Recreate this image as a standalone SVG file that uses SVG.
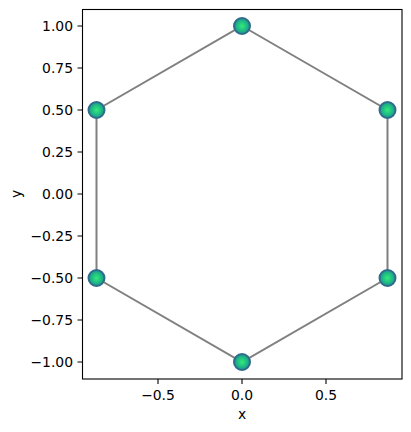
<svg xmlns="http://www.w3.org/2000/svg" width="411" height="432" viewBox="0 0 411 432">
<style>
text{font-family:"DejaVu Sans",sans-serif;font-size:13.9px;fill:#000}
.yt{text-anchor:end}
.xt{text-anchor:middle}
.tick{stroke:#000;stroke-width:1.1}
.edge{stroke:#808080;stroke-width:2;fill:none}
.node{fill:url(#g);stroke:#2e6b8c;stroke-width:2}
</style>
<defs>
<radialGradient id="g" cx="50%" cy="50%" r="50%">
<stop offset="0" stop-color="#35ea7a"/>
<stop offset="0.55" stop-color="#1fc083"/>
<stop offset="1" stop-color="#20948c"/>
</radialGradient>
</defs>
<rect width="411" height="432" fill="#fff"/>
<g id="connectors">
<polygon class="edge" points="242,26 387.5,110 387.5,278 242,362 96.5,278 96.5,110"/>
</g>
<g id="n0"><circle class="node" cx="242" cy="26" r="8"/></g>
<g id="n1"><circle class="node" cx="387.5" cy="110" r="8"/></g>
<g id="n2"><circle class="node" cx="387.5" cy="278" r="8"/></g>
<g id="n3"><circle class="node" cx="242" cy="362" r="8"/></g>
<g id="n4"><circle class="node" cx="96.5" cy="278" r="8"/></g>
<g id="n5"><circle class="node" cx="96.5" cy="110" r="8"/></g>
<g id="axes">
<rect x="82.5" y="9.5" width="319.5" height="369.5" fill="none" stroke="#000" stroke-width="1.1"/>
<path class="tick" d="M82.5 26h-5M82.5 68h-5M82.5 110h-5M82.5 152h-5M82.5 194h-5M82.5 236h-5M82.5 278h-5M82.5 320h-5M82.5 362h-5"/>
<path class="tick" d="M158 379v5M242 379v5M326 379v5"/>
<text class="yt" x="73" y="31">1.00</text>
<text class="yt" x="73" y="73">0.75</text>
<text class="yt" x="73" y="115">0.50</text>
<text class="yt" x="73" y="157">0.25</text>
<text class="yt" x="73" y="199">0.00</text>
<text class="yt" x="73" y="241">−0.25</text>
<text class="yt" x="73" y="283">−0.50</text>
<text class="yt" x="73" y="325">−0.75</text>
<text class="yt" x="73" y="367">−1.00</text>
<text class="xt" x="158" y="399.5">−0.5</text>
<text class="xt" x="242" y="399.5">0.0</text>
<text class="xt" x="326" y="399.5">0.5</text>
<text class="xt" x="242" y="419">x</text>
<text class="xt" transform="translate(21,194) rotate(-90)">y</text>
</g>
</svg>
